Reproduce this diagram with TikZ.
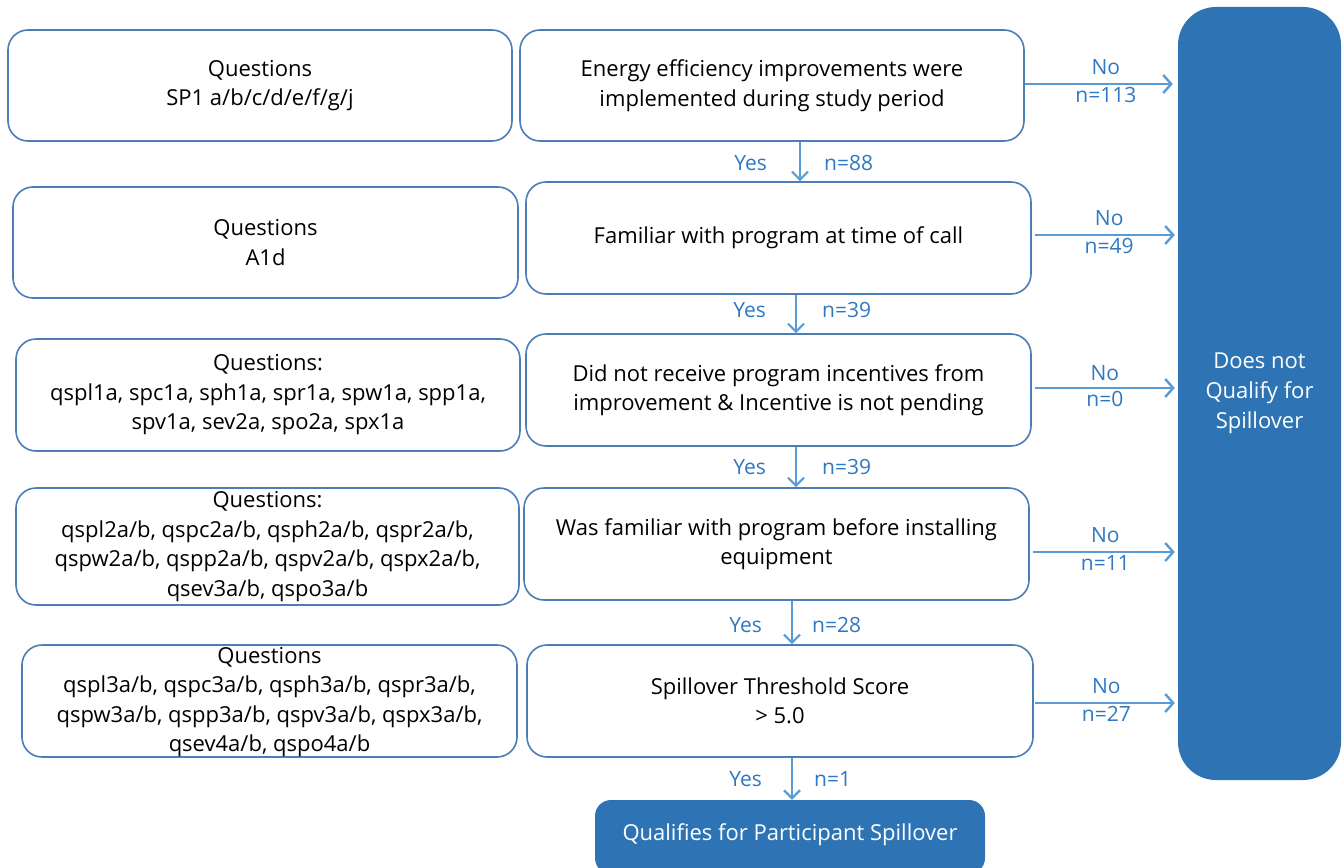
\documentclass[tikz,border=0pt]{standalone}
\usepackage{fontspec}
\setmainfont{Open Sans}
\usetikzlibrary{arrows.meta,calc}
\definecolor{boxline}{HTML}{4A7EB5}
\definecolor{darkfill}{HTML}{2E74B5}
\definecolor{arrowc}{HTML}{5B9BD5}
\definecolor{labc}{HTML}{2E78C4}
\tikzset{
  qbox/.style={draw=boxline, line width=1.6pt, rounded corners=20pt, fill=white, align=center, inner sep=0pt, font=\fontsize{22}{29.5}\selectfont},
  dbox/.style={fill=darkfill, draw=none, align=center, inner sep=0pt, text=white, font=\fontsize{22}{30}\selectfont},
  harr/.style={draw=arrowc, line width=2.8pt, -{Straight Barb[length=8pt,width=18pt,line width=2.4pt]}},
  varr/.style={draw=arrowc, line width=2.2pt, -{Straight Barb[length=8pt,width=16pt,line width=2.2pt]}},
  lab/.style={text=labc, font=\fontsize{21}{24}\selectfont, inner sep=0pt},
  nolab/.style={lab, yshift=17pt},
  nlab/.style={lab, yshift=-11pt},
  yeslab/.style={lab, anchor=east, xshift=-29pt},
  nvlab/.style={lab, anchor=west, xshift=23pt},
}
\begin{document}
\begin{tikzpicture}[x=1pt,y=-1pt]
\useasboundingbox (0,0) rectangle (1343,867);
\begin{scope}
\clip (0,0) rectangle (1343,867);
% left question boxes
\node[qbox, minimum width=504pt, minimum height=111pt] (q1) at (260,85.5) {Questions\\SP1 a/b/c/d/e/f/g/j};
\node[qbox, minimum width=505pt, minimum height=111pt] (q2) at (265.5,242.5) {Questions\\A1d};
\node[qbox, minimum width=504pt, minimum height=112pt] (q3) at (268,395) {Questions:\\qspl1a, spc1a, sph1a, spr1a, spw1a, spp1a,\\spv1a, sev2a, spo2a, spx1a};
\node[qbox, minimum width=503pt, minimum height=117pt] (q4) at (267.5,546.5) {Questions:\\qspl2a/b, qspc2a/b, qsph2a/b, qspr2a/b,\\qspw2a/b, qspp2a/b, qspv2a/b, qspx2a/b,\\qsev3a/b, qspo3a/b};
\node[qbox, minimum width=495pt, minimum height=112pt] (q5) at (269.5,701) {};
\node[align=center, inner sep=0pt, font=\fontsize{22}{29.5}\selectfont] (q5t) at (269.5,702) {Questions\\qspl3a/b, qspc3a/b, qsph3a/b, qspr3a/b,\\qspw3a/b, qspp3a/b, qspv3a/b, qspx3a/b,\\qsev4a/b, qspo4a/b};
% middle decision boxes
\node[qbox, minimum width=504pt, minimum height=111pt] (m1) at (772,85.5) {Energy efficiency improvements were\\implemented during study period};
\node[qbox, minimum width=505pt, minimum height=112pt] (m2) at (778.5,238) {Familiar with program at time of call};
\node[qbox, minimum width=505pt, minimum height=112pt] (m3) at (778.5,390) {Did not receive program incentives from\\improvement \& Incentive is not pending};
\node[qbox, minimum width=505pt, minimum height=112pt] (m4) at (776.5,544) {Was familiar with program before installing\\equipment};
\node[qbox, minimum width=506pt, minimum height=112pt] (m5) at (780,701) {Spillover Threshold Score\\> 5.0};
% outcome boxes
\node[dbox, rounded corners=38pt, minimum width=163pt, minimum height=773pt] (no) at (1259.5,393.5) {Does not\\Qualify for\\Spillover};
\node[dbox, rounded corners=16pt, minimum width=390pt, minimum height=74pt] (yes) at (790,837) {};
\node[text=white, font=\fontsize{22}{24}\selectfont, inner sep=0pt] (yest) at (790,835) {Qualifies for Participant Spillover};
% vertical arrows
\draw[varr] ([xshift=28pt]m1.south) -- ([xshift=28pt]m1.south |- m2.north) node[pos=0.55, yeslab, xshift=-3pt] {Yes} node[pos=0.55, nvlab] {n=88};
\draw[varr] ([xshift=17.5pt]m2.south) -- ([xshift=17.5pt]m2.south |- m3.north) node[pos=0.4, yeslab] {Yes} node[pos=0.4, nvlab, xshift=2pt] {n=39};
\draw[varr] ([xshift=17.5pt]m3.south) -- ([xshift=17.5pt]m3.south |- m4.north) node[pos=0.5, yeslab] {Yes} node[pos=0.5, nvlab, xshift=2pt] {n=39};
\draw[varr] ([xshift=15.5pt]m4.south) -- ([xshift=15.5pt]m4.south |- m5.north) node[pos=0.55, yeslab] {Yes} node[pos=0.55, nvlab, xshift=-4pt] {n=28};
\draw[varr] ([xshift=12pt]m5.south) -- ([xshift=12pt]m5.south |- yes.north) node[pos=0.5, yeslab] {Yes} node[pos=0.5, nvlab, xshift=-2pt] {n=1};
% horizontal arrows
\coordinate (h1) at ([yshift=1.5pt]m1.east);
\draw[harr, shorten >=5pt] (h1) -- (h1 -| no.west) node[pos=0.53, nolab] {No} node[pos=0.53, nlab] {n=113};
\coordinate (h2) at ([yshift=3pt,xshift=3pt]m2.east);
\draw[harr, shorten >=3pt] (h2) -- (h2 -| no.west) node[pos=0.52, nolab] {No} node[pos=0.52, nlab] {n=49};
\coordinate (h3) at ([yshift=2pt,xshift=3pt]m3.east);
\draw[harr, shorten >=3pt] (h3) -- (h3 -| no.west) node[pos=0.49, nolab, yshift=-2pt] {No} node[pos=0.49, nlab] {n=0};
\coordinate (h4) at ([yshift=-8pt,xshift=3pt]m4.east);
\draw[harr, shorten >=3pt] (h4) -- (h4 -| no.west) node[pos=0.5, nolab] {No} node[pos=0.5, nlab] {n=11};
\coordinate (h5) at ([yshift=-2pt,xshift=1pt]m5.east);
\draw[harr, shorten >=3pt] (h5) -- (h5 -| no.west) node[pos=0.5, nolab] {No} node[pos=0.5, nlab] {n=27};
\end{scope}
\end{tikzpicture}
\end{document}
